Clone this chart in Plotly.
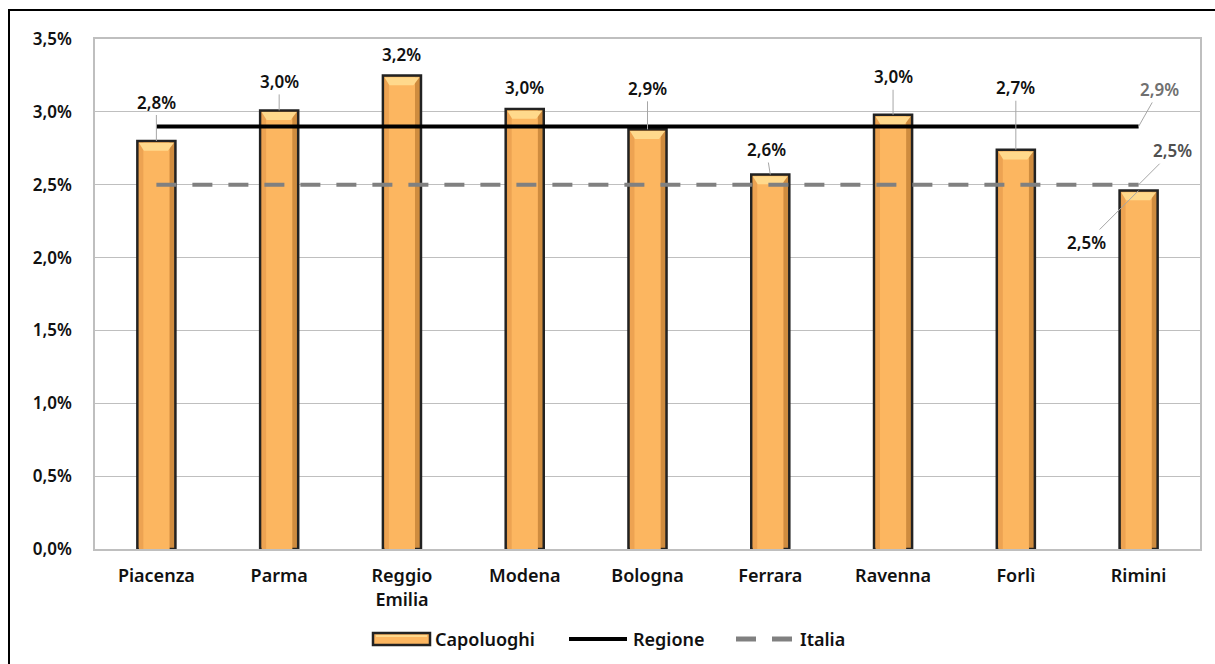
import plotly.graph_objects as go

# Capoluoghi dell'Emilia-Romagna
citta = ["Piacenza", "Parma", "Reggio<br>Emilia", "Modena", "Bologna",
         "Ferrara", "Ravenna", "Forlì", "Rimini"]
capoluoghi = [2.80, 3.01, 3.25, 3.02, 2.88, 2.57, 2.98, 2.74, 2.46]
regione = 2.90
italia = 2.50

y_ticks = [0.0, 0.5, 1.0, 1.5, 2.0, 2.5, 3.0, 3.5]
serie = ["Capoluoghi", "Regione", "Italia"]

FONT = "Noto Sans"
BAR_EDGE = "#222222"
SHADE_RIGHT = "#CF8C3F"
SHADE_LEFT = "#EDA352"
BAR_FILL = "#FCB660"
BEVEL = "#FFD98C"

# plot area in pixels, used to place the hand-drawn legend
L, R, T, B = 95, 1200, 39, 549
PX_X = 9 / (R - L)        # one pixel in category units
PX_Y = 3.5 / (B - T)      # one pixel in value units


def px_x(p):
    return (p - L) / (R - L)


def px_y(p):
    return (B - p) / (B - T)


def pct(v):
    return f"{v:.1f}%".replace(".", ",")


# label offsets (pixels) relative to the top of each bar; False = no leader line
label_offsets = [(0, -39, True), (0, -29, True), (0, -21, False), (0, -21, False),
                 (0, -41, True), (-4, -25, True), (0, -38, True), (0, -62, True),
                 (-52, 52, True)]

x = list(range(len(citta)))
W = 0.31                       # bar width in category units
inner_top = [v - 1.7 * PX_Y for v in capoluoghi]

fig = go.Figure()

# bar body with its dark outline; the darker fill shows as the right-hand shading
fig.add_trace(go.Bar(
    x=x, y=capoluoghi, name=serie[0], width=W, offset=-W / 2, showlegend=False,
    marker=dict(color=SHADE_RIGHT, line=dict(color=BAR_EDGE, width=2.5)),
))
# left shading and bright centre of each bar
fig.add_trace(go.Bar(
    x=x, y=inner_top, width=W - 7.5 * PX_X, offset=-W / 2 + 1.5 * PX_X,
    showlegend=False, hoverinfo="skip",
    marker=dict(color=SHADE_LEFT, line=dict(width=0)),
))
fig.add_trace(go.Bar(
    x=x, y=inner_top, width=W - 12 * PX_X, offset=-W / 2 + 6 * PX_X,
    showlegend=False, hoverinfo="skip",
    marker=dict(color=BAR_FILL, line=dict(width=0)),
))
# top bevel of each bar
bx, by = [], []
for xi, top in zip(x, inner_top):
    left, right = xi - W / 2 + 1.5 * PX_X, xi + W / 2 - 1.5 * PX_X
    bx += [left, right, right - 6 * PX_X, left + 5 * PX_X, left, None]
    by += [top, top, top - 8 * PX_Y, top - 8 * PX_Y, top, None]
fig.add_trace(go.Scatter(
    x=bx, y=by, mode="lines", fill="toself", fillcolor=BEVEL,
    line=dict(width=0, color=BEVEL), showlegend=False, hoverinfo="skip",
))

fig.add_trace(go.Scatter(
    x=[x[0], x[-1]], y=[regione, regione], name=serie[1], mode="lines",
    showlegend=False, line=dict(color="#000000", width=4),
))
fig.add_trace(go.Scatter(
    x=[x[0], x[-1]], y=[italia, italia], name=serie[2], mode="lines",
    showlegend=False, line=dict(color="#808080", width=4, dash="20px,16px"),
))

label_font = dict(family=FONT, size=17, color="#111111", weight=600)
annotations = []
for i, v in enumerate(capoluoghi):
    ax, ay, arrow = label_offsets[i]
    if arrow:
        annotations.append(dict(
            x=x[i], y=v, xref="x", yref="y", text=pct(v),
            showarrow=True, arrowhead=0, arrowwidth=1, arrowcolor="#A6A6A6",
            ax=ax, ay=ay, font=label_font,
        ))
    else:
        annotations.append(dict(
            x=x[i], y=v, xref="x", yref="y", text=pct(v), showarrow=False,
            yshift=-ay, font=label_font,
        ))

annotations.append(dict(
    x=x[-1], y=regione, xref="x", yref="y", text=pct(regione),
    showarrow=True, arrowhead=0, arrowwidth=1, arrowcolor="#A6A6A6",
    ax=21, ay=-37, font=dict(family=FONT, size=17, color="#707070", weight=600),
))
annotations.append(dict(
    x=x[-1], y=italia, xref="x", yref="y", text=pct(italia),
    showarrow=True, arrowhead=0, arrowwidth=1, arrowcolor="#A6A6A6",
    ax=34, ay=-34, font=dict(family=FONT, size=17, color="#505050", weight=600),
))

# legend, drawn by hand so the bar swatch keeps its wide shape
legend_font = dict(family=FONT, size=18, color="#111111", weight=600)
leg_y = px_y(639)
for label, px in zip(serie, [433, 631, 798]):
    annotations.append(dict(
        x=px_x(px), y=leg_y, xref="paper", yref="paper", text=label,
        showarrow=False, xanchor="left", yanchor="middle", font=legend_font,
    ))

shapes = [
    # outer frame
    dict(type="rect", xref="paper", yref="paper",
         x0=px_x(9), x1=1.2, y0=-0.5, y1=px_y(10),
         line=dict(color="#000000", width=2), fillcolor="rgba(0,0,0,0)",
         layer="above"),
    # legend swatches
    dict(type="rect", xref="paper", yref="paper",
         x0=px_x(373), x1=px_x(430), y0=px_y(645), y1=px_y(633),
         line=dict(color=BAR_EDGE, width=2.5), fillcolor=BAR_FILL),
    dict(type="line", xref="paper", yref="paper",
         x0=px_x(376), x1=px_x(427), y0=px_y(636), y1=px_y(636),
         line=dict(color=BEVEL, width=2)),
    dict(type="line", xref="paper", yref="paper",
         x0=px_x(569), x1=px_x(627), y0=leg_y, y1=leg_y,
         line=dict(color="#000000", width=4)),
    dict(type="line", xref="paper", yref="paper",
         x0=px_x(736), x1=px_x(756), y0=leg_y, y1=leg_y,
         line=dict(color="#808080", width=5)),
    dict(type="line", xref="paper", yref="paper",
         x0=px_x(772), x1=px_x(792), y0=leg_y, y1=leg_y,
         line=dict(color="#808080", width=5)),
]

fig.update_layout(
    width=1215, height=664,
    margin=dict(l=L, r=1215 - R, t=T, b=664 - B),
    paper_bgcolor="white", plot_bgcolor="white",
    font=dict(family=FONT, size=17, color="#111111"),
    showlegend=False, barmode="overlay",
    annotations=annotations,
    shapes=shapes,
)

fig.update_xaxes(
    range=[-0.5, len(citta) - 0.5], tickvals=x, ticktext=citta,
    showgrid=False, showline=True, mirror=True, linecolor="#BFBFBF", linewidth=1.5,
    ticks="", ticklabelstandoff=10,
    tickfont=dict(family=FONT, size=18, color="#111111", weight=600),
    zeroline=False,
)
fig.update_yaxes(
    range=[0, 3.5], tickvals=y_ticks, ticktext=[pct(t) for t in y_ticks],
    showgrid=True, gridcolor="#BFBFBF", gridwidth=1,
    showline=True, mirror=True, linecolor="#BFBFBF", linewidth=1.5,
    ticks="", ticklabelstandoff=18,
    tickfont=dict(family=FONT, size=17, color="#111111", weight=600),
    zeroline=False,
)

fig.write_html("out.html")
